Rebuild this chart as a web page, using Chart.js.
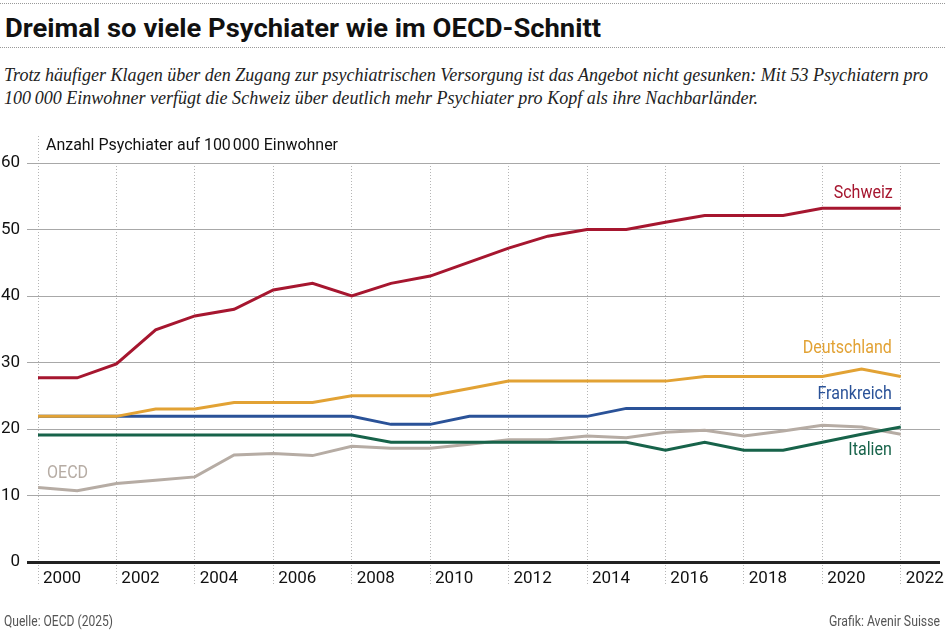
<!DOCTYPE html>
<html lang="de">
<head>
<meta charset="utf-8">
<title>Dreimal so viele Psychiater wie im OECD-Schnitt</title>
<script src="https://cdn.jsdelivr.net/npm/chart.js@4.4.1/dist/chart.umd.min.js"></script>
<style>
  html, body { margin: 0; padding: 0; background: #fff; }
  body { width: 945px; height: 630px; position: relative; overflow: hidden; font-family: Roboto, sans-serif; color: #111; }
  .rule { position: absolute; left: 0; width: 945px; height: 0; border-top: 1px dotted #999; }
  .txt { position: absolute; white-space: nowrap; line-height: 1; transform-origin: left top; }
  #title { left: 5px; top: 15px; font-size: 26px; font-weight: 700; }
  .sub { left: 4px; font-family: "Liberation Serif", serif; font-style: italic; font-size: 19px; color: #222; }
  #axisTitle { left: 46px; top: 137px; font-size: 16px; color: #111; }
  .foot { top: 614px; font-size: 14px; color: #555; }
  #wrap { position: absolute; left: 0; top: 0; width: 945px; height: 630px; }
  #grafico { display: block; width: 945px; height: 630px; }
</style>
</head>
<body>
<div class="rule" style="top:3px"></div>
<div id="title" class="txt" data-w="596">Dreimal so viele Psychiater wie im OECD-Schnitt</div>
<div class="rule" style="top:47px"></div>
<div class="txt sub" style="top:65px" data-w="924">Trotz häufiger Klagen über den Zugang zur psychiatrischen Versorgung ist das Angebot nicht gesunken: Mit 53 Psychiatern pro</div>
<div class="txt sub" style="top:88px" data-w="754">100&#8239;000 Einwohner verfügt die Schweiz über deutlich mehr Psychiater pro Kopf als ihre Nachbarländer.</div>
<div id="wrap"><canvas id="grafico" width="945" height="630"></canvas></div>
<div id="axisTitle" class="txt" data-w="292">Anzahl Psychiater auf 100&#8239;000 Einwohner</div>
<div class="txt foot" style="left:4px" data-w="109">Quelle: OECD (2025)</div>
<div class="txt foot" style="left:829px" data-w="111">Grafik: Avenir Suisse</div>

<script>
// Jahre und Werte (Psychiater pro 100 000 Einwohner)
const jahre = [2000, 2001, 2002, 2003, 2004, 2005, 2006, 2007, 2008, 2009, 2010, 2011,
               2012, 2013, 2014, 2015, 2016, 2017, 2018, 2019, 2020, 2021, 2022];
const schweiz = [27.7, 27.7, 29.8, 34.9, 37.0, 38.0, 40.9, 41.9, 40.0, 41.9, 43.0, 45.1,
                 47.2, 49.0, 50.0, 50.0, 51.1, 52.1, 52.1, 52.1, 53.2, 53.2, 53.2];
const deutschland = [21.9, 21.9, 21.9, 23.0, 23.0, 24.0, 24.0, 24.0, 25.0, 25.0, 25.0, 26.1,
                     27.2, 27.2, 27.2, 27.2, 27.2, 27.9, 27.9, 27.9, 27.9, 29.0, 27.9];
const frankreich = [21.9, 21.9, 21.9, 21.9, 21.9, 21.9, 21.9, 21.9, 21.9, 20.7, 20.7, 21.9,
                    21.9, 21.9, 21.9, 23.1, 23.1, 23.1, 23.1, 23.1, 23.1, 23.1, 23.1];
const italien = [19.1, 19.1, 19.1, 19.1, 19.1, 19.1, 19.1, 19.1, 19.1, 18.0, 18.0, 18.0,
                 18.0, 18.0, 18.0, 18.0, 16.8, 18.0, 16.8, 16.8, 18.0, 19.2, 20.3];
const oecd = [11.2, 10.7, 11.8, 12.3, 12.8, 16.1, 16.3, 16.0, 17.4, 17.1, 17.1, 17.7,
              18.4, 18.4, 18.95, 18.7, 19.5, 19.8, 18.95, 19.7, 20.55, 20.3, 19.2];
const jahrTicks = [2000, 2002, 2004, 2006, 2008, 2010, 2012, 2014, 2016, 2018, 2020, 2022];
const wertTicks = [0, 10, 20, 30, 40, 50, 60];

// Schrift an die Breite im Original anpassen
document.querySelectorAll('[data-w]').forEach(function (el) {
    let w = el.getBoundingClientRect().width;
    el.style.transform = 'scaleX(' + (parseFloat(el.dataset.w) / w) + ')';
});

function punkte(werte) {
    return jahre.map(function (j, i) { return { x: j, y: werte[i] }; });
}

function serie(label, werte, farbe, marke) {
    return {
        label: label,
        data: punkte(werte),
        borderColor: farbe,
        backgroundColor: farbe,
        borderWidth: 3,
        pointRadius: 0,
        tension: 0,
        marke: marke
    };
}

// Beschriftung direkt an den Linien (etwas schmaler gesetzt)
const linienNamen = {
    id: 'linienNamen',
    afterDatasetsDraw(chart) {
        const ctx = chart.ctx, x = chart.scales.x, y = chart.scales.y;
        chart.data.datasets.forEach(function (ds) {
            let m = ds.marke;
            let px = x.getPixelForValue(ds.data[m.i].x) + m.dx;
            let py = y.getPixelForValue(ds.data[m.i].y) + m.dy;
            ctx.save();
            ctx.translate(px, py);
            ctx.scale(0.89, 1);
            ctx.font = '18px Roboto';
            ctx.fillStyle = ds.borderColor;
            ctx.textAlign = m.align;
            ctx.textBaseline = 'middle';
            ctx.fillText(ds.label, 0, 0);
            ctx.restore();
        });
    },
    afterDraw(chart) {
        // gepunktete Linie bis zum Achsentitel
        const ctx = chart.ctx, a = chart.chartArea;
        ctx.save();
        ctx.strokeStyle = '#b5b5b5';
        ctx.lineWidth = 1;
        ctx.setLineDash([1, 2]);
        ctx.beginPath();
        ctx.moveTo(a.left + 0.5, 136);
        ctx.lineTo(a.left + 0.5, a.top);
        ctx.stroke();
        ctx.restore();
    }
};

let ctx = document.getElementById('grafico');
let myChart = new Chart(ctx, {
    type: 'line',
    data: {
        datasets: [
            serie('Schweiz', schweiz, '#a6162f', { i: 22, dx: -8, dy: -15, align: 'right' }),
            serie('Deutschland', deutschland, '#e2a234', { i: 22, dx: -9, dy: -28, align: 'right' }),
            serie('Frankreich', frankreich, '#2a5298', { i: 22, dx: -9, dy: -14, align: 'right' }),
            serie('Italien', italien, '#17634a', { i: 22, dx: -9, dy: 23, align: 'right' }),
            serie('OECD', oecd, '#b6aca4', { i: 0, dx: 9, dy: -14, align: 'left' })
        ]
    },
    options: {
        responsive: false,
        animation: false,
        devicePixelRatio: 1,
        layout: { padding: { top: 163, right: 5, bottom: 28, left: 0 } },
        plugins: { legend: { display: false }, tooltip: { enabled: false } },
        scales: {
            x: {
                type: 'linear',
                min: 2000,
                max: 2023,
                afterFit: function (s) { s.height = 40; },
                afterBuildTicks: function (s) { s.ticks = jahrTicks.map(function (v) { return { value: v }; }); },
                border: { display: false, dash: [1, 2] },
                grid: { color: '#b5b5b5', lineWidth: 1, tickLength: 23, tickBorderDash: [1, 2] },
                ticks: {
                    labelOffset: 24,
                    padding: -16,
                    color: '#111',
                    font: { family: 'Roboto', size: 17 },
                    callback: function (v) { return String(v); }
                }
            },
            y: {
                min: 0,
                max: 60,
                afterFit: function (s) { s.width = 38; },
                afterBuildTicks: function (s) { s.ticks = wertTicks.map(function (v) { return { value: v }; }); },
                border: { display: false },
                grid: {
                    color: function (c) { return c.tick && c.tick.value === 0 ? '#222' : '#a8a8a8'; },
                    lineWidth: function (c) { return c.tick && c.tick.value === 0 ? 3 : 1; },
                    tickLength: 11
                },
                ticks: {
                    padding: 7,
                    color: '#111',
                    font: { family: 'Roboto', size: 17 }
                }
            }
        }
    },
    plugins: [linienNamen]
});
</script>
</body>
</html>
